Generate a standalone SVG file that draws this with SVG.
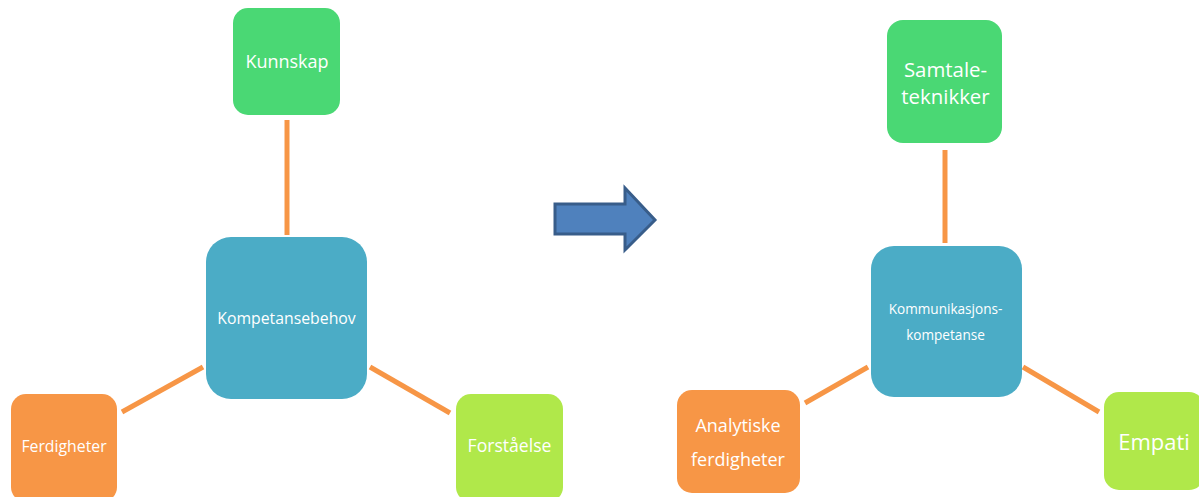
<svg xmlns="http://www.w3.org/2000/svg" width="1199" height="497" viewBox="0 0 1199 497">
  <defs>
    <style>
      .box-green { fill: #4AD874; }
      .box-teal { fill: #4BACC6; }
      .box-orange { fill: #F79646; }
      .box-lime { fill: #B0E84A; }
      .link { stroke: #F79646; stroke-width: 5; fill: none; }
      .label { fill: #FFFFFF; font-family: "Open Sans", "Noto Sans", sans-serif; text-anchor: middle; }
    </style>
  </defs>
  <rect width="1199" height="497" fill="#FFFFFF"/>

  <!-- connectors -->
  <g id="connectors">
    <line class="link" x1="287" y1="120" x2="287" y2="235"/>
    <line class="link" x1="122" y1="412" x2="203" y2="367"/>
    <line class="link" x1="370" y1="367" x2="450" y2="413"/>
    <line class="link" x1="945" y1="150" x2="945" y2="243"/>
    <line class="link" x1="805" y1="403" x2="868" y2="367"/>
    <line class="link" x1="1023" y1="367" x2="1099" y2="412"/>
    <polygon points="555,204 625,204 625,188 655,220 625,250 625,234 555,234" fill="#4F81BD" stroke="#385D8A" stroke-width="3" stroke-linejoin="miter"/>
  </g>

  <!-- left cluster -->
  <g id="kunnskap">
    <rect class="box-green" x="233" y="8" width="107" height="107" rx="15"/>
    <text class="label" x="287" y="68" font-size="18">Kunnskap</text>
  </g>
  <g id="kompetansebehov">
    <rect class="box-teal" x="206" y="237" width="161" height="162" rx="25"/>
    <text class="label" x="286.5" y="324" font-size="15.8">Kompetansebehov</text>
  </g>
  <g id="ferdigheter">
    <rect class="box-orange" x="11" y="394" width="106" height="108" rx="15"/>
    <text class="label" x="64" y="452" font-size="15.8">Ferdigheter</text>
  </g>
  <g id="forstaaelse">
    <rect class="box-lime" x="456" y="394" width="107" height="108" rx="15"/>
    <text class="label" x="509.5" y="452" font-size="17.6">Forståelse</text>
  </g>

  <!-- right cluster -->
  <g id="samtaleteknikker">
    <rect class="box-green" x="887" y="20" width="115" height="123" rx="16"/>
    <text class="label" x="945.5" y="77" font-size="20.4">Samtale-</text>
    <text class="label" x="945.5" y="104" font-size="20.4">teknikker</text>
  </g>
  <g id="kommunikasjonskompetanse">
    <rect class="box-teal" x="871" y="246" width="151" height="151" rx="23"/>
    <text class="label" x="945.5" y="314" font-size="13.6">Kommunikasjons-</text>
    <text class="label" x="945.5" y="340" font-size="13.6">kompetanse</text>
  </g>
  <g id="analytiske">
    <rect class="box-orange" x="677" y="390" width="123" height="103" rx="15"/>
    <text class="label" x="738" y="432" font-size="18">Analytiske</text>
    <text class="label" x="738" y="466" font-size="18">ferdigheter</text>
  </g>
  <g id="empati">
    <rect class="box-lime" x="1104" y="392" width="100" height="98" rx="15"/>
    <text class="label" x="1154" y="450" font-size="22">Empati</text>
  </g>
</svg>
